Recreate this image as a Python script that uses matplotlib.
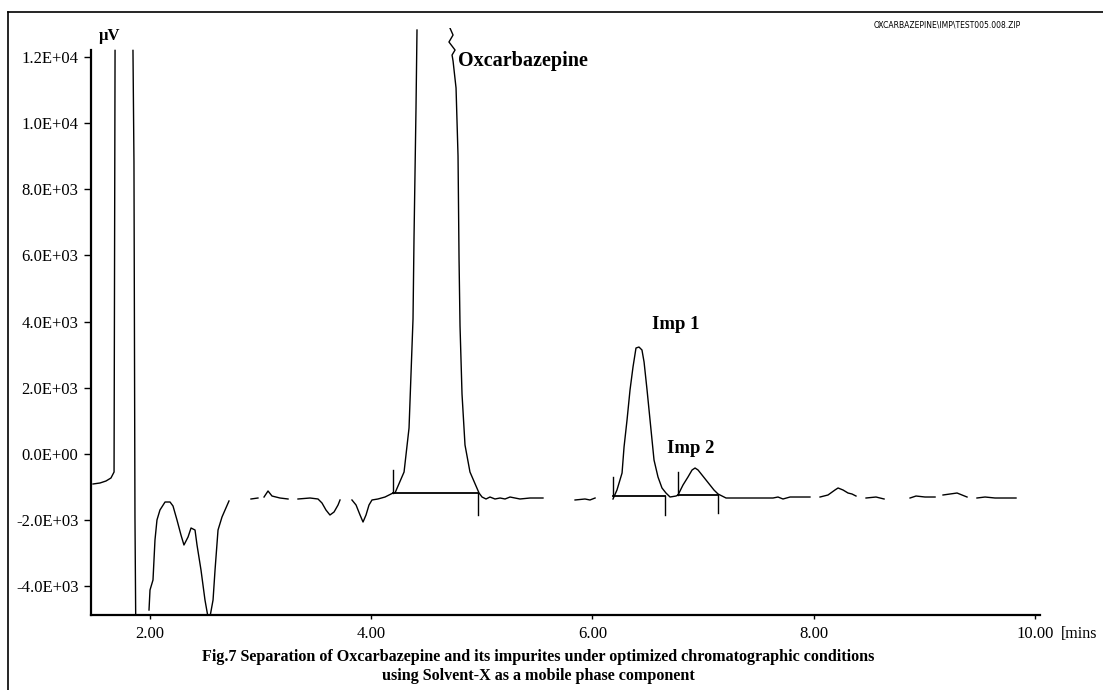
import matplotlib
matplotlib.use("Agg")
import matplotlib.pyplot as plt
import numpy as np
from matplotlib.lines import Line2D

nan = np.nan

# chromatogram trace, time (min) vs signal (uV); nan = gap in the recorded trace
time_min = [
    1.485, 1.548, 1.602, 1.647, 1.675, 1.684, nan,
    1.846, 1.855, 1.864, 1.873, nan,
    1.991, 2.000, 2.027, 2.045, 2.063, 2.090, 2.136, 2.181, 2.208, 2.244, 2.280,
    2.307, 2.344, 2.371, 2.407, 2.425, 2.461, 2.497, 2.533, 2.570, 2.588, 2.615,
    2.651, 2.687, 2.714, nan,
    2.913, 2.976, nan,
    3.031, 3.067, 3.103, 3.175, 3.248, nan,
    3.338, 3.447, 3.519, 3.555, 3.591, 3.627, 3.664, 3.700, 3.718, nan,
    3.826, 3.863, 3.899, 3.926, 3.953, 3.980, 4.007, 4.061, 4.125, 4.179, 4.197,
    4.215, 4.297, 4.342, 4.360, 4.378, 4.387, 4.405, 4.414, nan,
    4.712, 4.740, 4.703, 4.758, 4.731, 4.740, 4.767, 4.785, 4.794, 4.803, 4.821,
    4.848, 4.893, 4.975, 5.002, 5.038, 5.074, 5.119, 5.165, 5.210, 5.255, 5.300,
    5.345, 5.436, 5.553, nan,
    5.843, 5.933, 5.978, 6.024, nan,
    6.186, 6.222, 6.268, 6.286, 6.313, 6.340, 6.367, 6.394, 6.421, 6.448, 6.467,
    6.494, 6.530, 6.557, 6.593, 6.629, 6.665, 6.702, 6.756, 6.774, 6.819, 6.864,
    6.901, 6.928, 6.955, 6.991, 7.027, 7.063, 7.099, 7.136, 7.172, 7.208, 7.425,
    7.633, 7.678, 7.723, 7.787, 7.967, nan,
    8.058, 8.130, 8.193, 8.221, 8.266, 8.311, 8.347, 8.383, nan,
    8.474, 8.564, 8.637, nan,
    8.872, 8.926, 9.007, 9.098, nan,
    9.170, 9.233, 9.297, 9.342, 9.387, nan,
    9.477, 9.550, 9.640, 9.830,
]
signal_uv = [
    -912, -882, -822, -731, -550, 12200, nan,
    12200, 8825, -1910, -6000, nan,
    -4723, -4118, -3816, -2606, -2001, -1699, -1457, -1457, -1578, -2001, -2455,
    -2757, -2515, -2243, -2304, -2757, -3513, -4420, -5100, -4420, -3513, -2304,
    -1910, -1638, -1426, nan,
    -1366, -1336, nan,
    -1306, -1124, -1276, -1336, -1366, nan,
    -1366, -1336, -1366, -1487, -1699, -1850, -1759, -1548, -1396, nan,
    -1396, -1548, -1850, -2062, -1850, -1548, -1396, -1366, -1306, -1215, -1185,
    -1185, -550, 781, 2414, 4077, 6527, 10458, 12816, nan,
    12877, 12665, 12454, 12212, 12060, 11879, 11063, 9006, 5922, 3865, 1809,
    267, -550, -1185, -1306, -1366, -1306, -1366, -1336, -1366, -1306, -1336,
    -1366, -1336, -1336, nan,
    -1396, -1366, -1396, -1336, nan,
    -1366, -1094, -580, 206, 1023, 1930, 2626, 3200, 3230, 3140, 2777,
    1930, 720, -187, -701, -1033, -1185, -1306, -1276, -1245, -943, -701,
    -489, -429, -489, -640, -791, -943, -1094, -1215, -1276, -1336, -1336,
    -1336, -1306, -1366, -1306, -1306, nan,
    -1306, -1245, -1094, -1033, -1094, -1185, -1215, -1276, nan,
    -1336, -1306, -1366, nan,
    -1336, -1276, -1306, -1306, nan,
    -1245, -1215, -1185, -1245, -1306, nan,
    -1336, -1306, -1336, -1336,
]

# peak integration marks: start, end, baseline level, start tick top, end tick bottom
peak_start = [4.197, 6.186, 6.774]
peak_end = [4.966, 6.656, 7.136]
peak_base = [-1185, -1290, -1245]
tick_top = [-489, -701, -550]
tick_bottom = [-1850, -1850, -1789]

peak_labels = ["Oxcarbazepine", "Imp 1", "Imp 2"]
label_time = [4.785, 6.539, 6.675]
label_level = [11880, 3896, 176]

x_ticks = [2, 4, 6, 8, 10]
y_ticks = [-4000, -2000, 0, 2000, 4000, 6000, 8000, 10000, 12000]

serif = "Liberation Serif"

fig = plt.figure(figsize=(11.03, 6.90), dpi=100)
ax = fig.add_axes([0.0825, 0.1087, 0.8604, 0.8507])

ax.plot(time_min, signal_uv, color="black", lw=1.0)

for s, e, b, tt, tb in zip(peak_start, peak_end, peak_base, tick_top, tick_bottom):
    ax.plot([s, e], [b, b], color="black", lw=1.3)
    ax.plot([s, s], [b, tt], color="black", lw=1.0)
    ax.plot([e, e], [b, tb], color="black", lw=1.0)

sizes = [14.5, 13.5, 13.5]
for name, t, v, fs in zip(peak_labels, label_time, label_level, sizes):
    ax.text(t, v, name, ha="left", va="center", fontsize=fs, fontweight="bold",
            family=serif)

ax.set_xlim(1.4665, 10.047)
ax.set_ylim(-4874, 12877)

for side in ["top", "right"]:
    ax.spines[side].set_visible(False)
ax.spines["left"].set_bounds(-4874, 12212)
ax.spines["left"].set_linewidth(1.6)
ax.spines["bottom"].set_linewidth(1.6)

ax.set_xticks(x_ticks)
ax.set_xticklabels([f"{x:.2f}" for x in x_ticks], family=serif, fontsize=12)
ax.set_yticks(y_ticks)
ax.set_yticklabels([f"{y:.1E}" for y in y_ticks], family=serif, fontsize=12)
ax.tick_params(axis="y", direction="out", length=5, width=1, pad=4)
ax.tick_params(axis="x", direction="out", length=3, width=1, pad=5)

ax.text(1.638, 12635, "\u00b5V", ha="center", va="center", fontsize=12,
        fontweight="bold", family=serif, clip_on=False)
ax.text(10.24, -5450, "[mins", ha="left", va="center", fontsize=11.5,
        family=serif, clip_on=False)

fig.text(0.488, 0.048, "Fig.7 Separation of Oxcarbazepine and its impurites under "
         "optimized chromatographic conditions", ha="center", va="center",
         fontsize=11.6, fontweight="bold", family=serif)
fig.text(0.488, 0.021, "using Solvent-X as a mobile phase component", ha="center",
         va="center", fontsize=11.6, fontweight="bold", family=serif)
fig.text(0.859, 0.964, "OXCARBAZEPINE\\IMP\\TEST005.008.ZIP", ha="center",
         va="center", fontsize=5.5, family="DejaVu Sans")

# outer frame of the original figure
fig.add_artist(Line2D([0.0073, 0.0073], [0.0, 0.983], color="black", lw=1.2,
                      transform=fig.transFigure))
fig.add_artist(Line2D([0.0073, 1.0], [0.983, 0.983], color="black", lw=1.2,
                      transform=fig.transFigure))

fig.savefig("out.png", dpi=100, facecolor="white")
